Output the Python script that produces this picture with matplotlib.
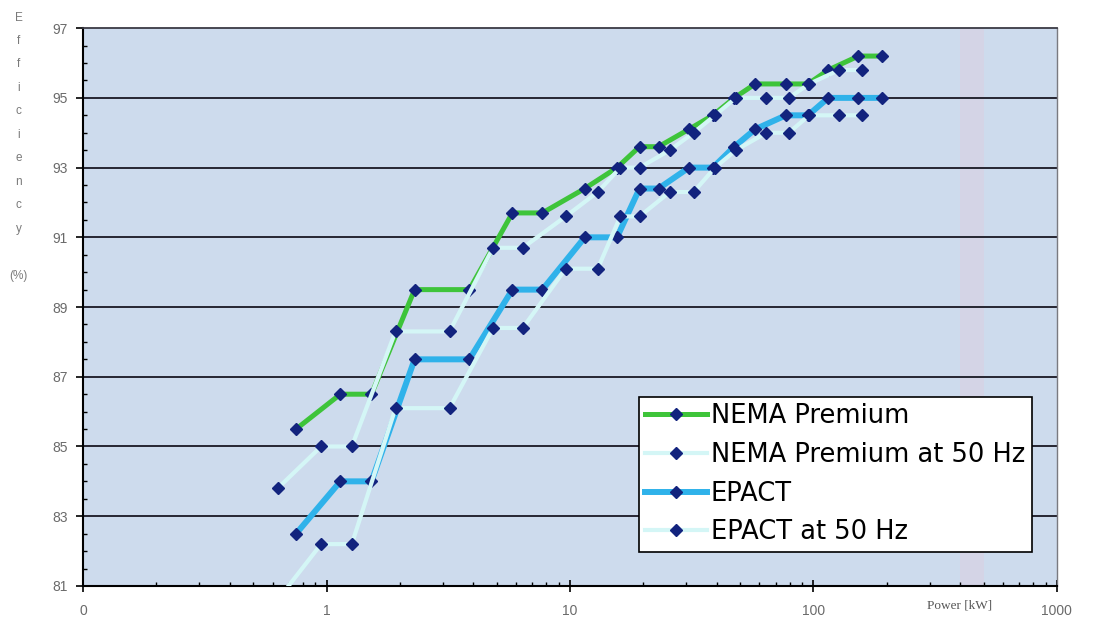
import matplotlib.pyplot as plt
from matplotlib.ticker import FixedLocator, NullFormatter

# power ratings in kW (60 Hz ratings and the same frames at 50 Hz)
power_60hz = [0.75, 1.14, 1.53, 2.3, 3.86, 5.8, 7.7, 11.5, 15.6, 19.3,
              23.1, 30.8, 38.6, 47.3, 57.6, 77, 95, 115, 153, 191]
power_50hz = [0.63, 0.95, 1.27, 1.92, 3.2, 4.83, 6.4, 9.6, 13.0, 16.1,
              19.3, 25.7, 32.2, 39.4, 48, 64.1, 79.2, 96, 127.5, 159]

# efficiencies in %
nema_premium = [85.5, 86.5, 86.5, 89.5, 89.5, 91.7, 91.7, 92.4, 93.0, 93.6,
                93.6, 94.1, 94.5, 95.0, 95.4, 95.4, 95.4, 95.8, 96.2, 96.2]
nema_premium_50 = [83.8, 85.0, 85.0, 88.3, 88.3, 90.7, 90.7, 91.6, 92.3, 93.0,
                   93.0, 93.5, 94.0, 94.5, 95.0, 95.0, 95.0, 95.4, 95.8, 95.8]
epact = [82.5, 84.0, 84.0, 87.5, 87.5, 89.5, 89.5, 91.0, 91.0, 92.4,
         92.4, 93.0, 93.0, 93.6, 94.1, 94.5, 94.5, 95.0, 95.0, 95.0]
epact_50 = [80.6, 82.2, 82.2, 86.1, 86.1, 88.4, 88.4, 90.1, 90.1, 91.6,
            91.6, 92.3, 92.3, 93.0, 93.5, 94.0, 94.0, 94.5, 94.5, 94.5]

x_ticks = [0.1, 1, 10, 100, 1000]
x_tick_labels = ['0', '1', '10', '100', '1000']
y_ticks = [81, 83, 85, 87, 89, 91, 93, 95, 97]

series = [
  ('NEMA Premium', power_60hz, nema_premium, '#3ec43a', 3.6),
  ('NEMA Premium at 50 Hz', power_50hz, nema_premium_50, '#d4f6f6', 3.0),
  ('EPACT', power_60hz, epact, '#2fb2ea', 4.3),
  ('EPACT at 50 Hz', power_50hz, epact_50, '#d4f6f6', 3.0),
]
marker_colour = '#12237e'
tick_colour = '#6a6a6a'

plt.rcParams['font.family'] = ['Liberation Sans', 'DejaVu Sans']

fig = plt.figure(figsize=(10.93, 6.26), dpi=100)
ax = fig.add_axes([0.076, 0.064, 0.891, 0.891])
ax.set_facecolor('#cddbed')

ax.set_xscale('log')
ax.set_xlim(0.1, 1000)
ax.set_ylim(81, 97)

# faint pink band from the scanned original
ax.axvspan(400, 500, color='#e6c6d6', alpha=0.3, lw=0, zorder=0)

for y in y_ticks[1:-1]:
  ax.axhline(y, color='#262632', linewidth=1.4, zorder=1)

for label, xs, ys, colour, lw in series:
  ax.plot(xs, ys, color=colour, linewidth=lw, marker='D', markersize=6.3,
          markerfacecolor=marker_colour, markeredgecolor=marker_colour,
          label=label, zorder=3)

ax.xaxis.set_major_locator(FixedLocator(x_ticks))
ax.set_xticklabels(x_tick_labels)
minor_x = [m * d for d in [0.1, 1, 10, 100] for m in range(2, 10)]
ax.xaxis.set_minor_locator(FixedLocator(minor_x))
ax.xaxis.set_minor_formatter(NullFormatter())
ax.set_yticks(y_ticks)
ax.set_yticks([v / 2.0 for v in range(162, 195)], minor=True)

ax.tick_params(axis='x', which='major', direction='inout', length=8, width=1.2,
               labelsize=10, labelcolor=tick_colour, pad=9)
ax.tick_params(axis='x', which='minor', direction='in', length=3, width=1.0)
ax.tick_params(axis='y', which='major', direction='out', length=5, width=1.2,
               labelsize=10, labelcolor=tick_colour, pad=6)
ax.tick_params(axis='y', which='minor', direction='in', length=3, width=1.0)

ax.spines['left'].set_color('black')
ax.spines['left'].set_linewidth(1.5)
ax.spines['bottom'].set_color('black')
ax.spines['bottom'].set_linewidth(1.5)
ax.spines['top'].set_color('#3a3a44')
ax.spines['top'].set_linewidth(1.3)
ax.spines['right'].set_color('#7a7a80')
ax.spines['right'].set_linewidth(1.0)

leg = ax.legend(loc='lower right', bbox_to_anchor=(0.974, 0.061),
                prop={'family': 'DejaVu Sans', 'size': 18.5},
                frameon=True, fancybox=False, framealpha=1.0,
                handlelength=2.4, handletextpad=0.15, labelspacing=0.5,
                borderpad=0.25, borderaxespad=0.0)
leg.get_frame().set_edgecolor('black')
leg.get_frame().set_linewidth(1.2)

# vertical y label, letter by letter
y_letters = ['E', 'f', 'f', 'i', 'c', 'i', 'e', 'n', 'c', 'y', '', '(%)']
for i, letter in enumerate(y_letters):
  fig.text(0.017, 0.972 - i * 0.0375, letter, fontsize=8.5, color='#7a7a7a',
           ha='center', va='center')

fig.text(0.878, 0.032, 'Power [kW]', fontsize=9.5, color='#555555',
         family=['Liberation Serif', 'DejaVu Serif'], ha='center', va='center')

plt.savefig('out.png')
